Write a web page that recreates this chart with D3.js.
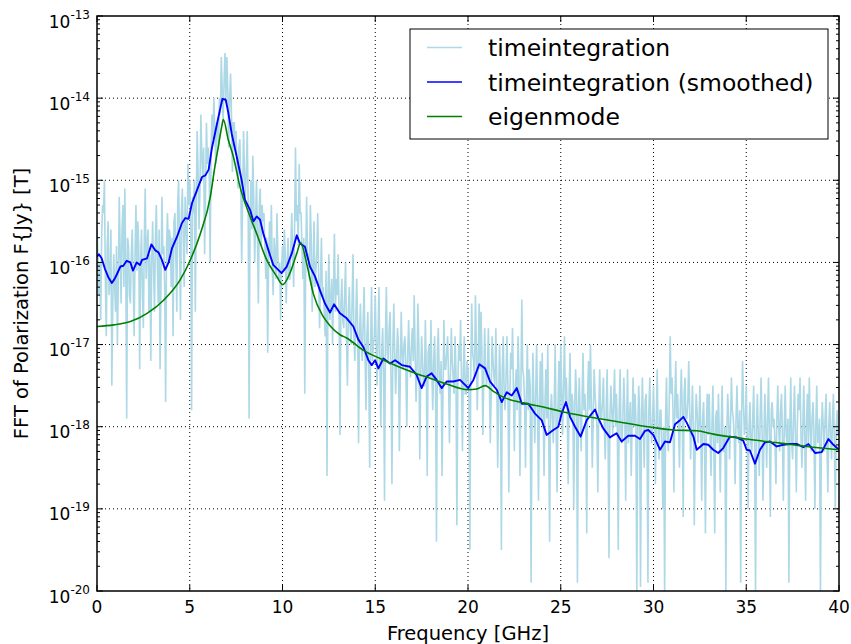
<!DOCTYPE html>
<html>
<head>
<meta charset="utf-8">
<script src="https://cdnjs.cloudflare.com/ajax/libs/d3/7.8.5/d3.min.js"></script>
<style>
  body { margin: 0; background: #fff; }
  text { font-family: "DejaVu Sans", sans-serif; fill: #000; }
</style>
</head>
<body>
<div id="chart"></div>
<script>
// raw FFT (log10 of |F{Jy}|), one bin every 0.05 GHz, one row per GHz
const rawStep = 0.05;
const rawLog = [
  -15.6,-15.9,-16.4,-16.0,-16.7,-15.7,-15.3,-15.4,-15.0,-16.2,-16.9,-15.8,-15.5,-16.4,-16.2,-15.6,-17.5,-16.5,-15.9,-16.3,
  -16.6,-15.8,-17.0,-16.2,-15.2,-15.9,-16.5,-15.6,-15.3,-16.3,-15.1,-16.0,-17.9,-15.7,-15.8,-16.4,-16.5,-15.9,-15.6,-16.2,
  -16.9,-15.9,-15.3,-16.1,-15.5,-15.8,-17.3,-16.0,-15.6,-16.4,-16.8,-15.7,-15.1,-16.2,-15.8,-15.6,-16.6,-15.9,-17.2,-16.0,
  -15.5,-16.1,-16.6,-15.7,-15.3,-16.0,-16.5,-15.6,-17.3,-16.2,-15.2,-15.9,-15.8,-16.3,-17.7,-15.8,-15.4,-16.0,-15.6,-15.7,
  -16.3,-15.7,-16.9,-15.5,-15.4,-15.9,-16.6,-15.3,-15.0,-15.8,-16.7,-15.4,-15.1,-15.7,-16.3,-15.2,-15.5,-15.9,-14.8,-15.3,
  -15.0,-15.5,-17.8,-15.2,-15.4,-15.0,-16.6,-15.3,-14.4,-14.9,-15.6,-15.1,-14.2,-14.7,-15.0,-14.6,-15.9,-15.2,-14.3,-14.8,
  -14.6,-14.9,-16.0,-14.6,-14.2,-14.5,-14.0,-14.4,-14.8,-14.3,-14.3,-14.6,-14.0,-14.2,-13.5,-13.9,-14.3,-13.8,-13.45,-14.0,
  -13.5,-13.9,-14.6,-14.0,-13.7,-14.2,-14.9,-14.3,-14.3,-14.6,-14.4,-14.8,-15.1,-14.6,-14.5,-15.0,-16.0,-15.2,-14.4,-14.9,
  -15.2,-14.9,-14.4,-15.3,-17.9,-15.4,-15.0,-15.6,-14.7,-15.2,-16.0,-15.5,-15.0,-15.7,-16.5,-15.3,-15.1,-15.8,-15.3,-15.5,
  -15.4,-15.8,-16.2,-15.7,-17.1,-16.0,-15.5,-15.9,-15.3,-16.1,-16.4,-15.7,-15.9,-16.2,-15.4,-15.9,-16.2,-16.0,-16.7,-16.1,
  -15.8,-16.1,-15.6,-15.9,-16.5,-16.0,-15.7,-16.2,-16.2,-15.8,-15.4,-15.9,-16.3,-15.6,-14.6,-15.5,-15.3,-15.8,-14.8,-15.4,
  -15.4,-15.8,-16.2,-15.7,-17.6,-16.0,-15.2,-15.9,-15.9,-16.2,-15.3,-15.7,-16.6,-16.1,-15.5,-16.3,-16.1,-15.9,-15.4,-16.2,
  -16.8,-16.2,-15.7,-16.4,-16.3,-16.6,-16.9,-16.1,-18.6,-16.4,-15.9,-16.7,-16.5,-16.2,-17.0,-16.3,-15.65,-16.6,-16.2,-16.4,
  -15.9,-16.6,-18.1,-16.5,-16.2,-16.7,-16.8,-16.4,-16.0,-16.9,-17.5,-16.6,-16.3,-16.8,-17.0,-16.5,-15.9,-16.9,-17.2,-16.7,
  -16.2,-16.8,-18.2,-16.9,-16.5,-17.0,-17.2,-16.7,-16.3,-17.1,-17.8,-16.9,-16.6,-17.3,-18.5,-17.0,-16.3,-17.2,-17.0,-16.9,
  -16.4,-17.0,-17.5,-16.9,-16.3,-17.2,-18.0,-17.1,-16.8,-17.3,-18.9,-16.9,-16.3,-17.1,-17.2,-16.8,-16.6,-17.4,-18.7,-17.0,
  -16.5,-17.1,-17.6,-17.2,-16.8,-17.0,-18.3,-17.4,-16.6,-17.1,-17.3,-17.0,-16.9,-17.3,-18.0,-17.1,-16.7,-17.2,-17.4,-17.0,
  -16.8,-17.2,-16.4,-17.1,-17.7,-17.3,-16.5,-17.0,-18.4,-17.4,-16.9,-17.2,-17.5,-17.5,-16.7,-17.3,-18.6,-17.1,-17.0,-17.4,
  -16.7,-17.3,-17.8,-17.2,-16.9,-17.5,-19.4,-17.1,-16.8,-17.4,-17.6,-17.2,-18.6,-17.6,-16.7,-17.3,-17.3,-17.1,-16.9,-17.4,
  -18.2,-17.4,-16.8,-17.2,-17.4,-17.6,-16.9,-17.3,-19.2,-17.5,-17.0,-17.2,-16.7,-17.4,-18.3,-17.3,-16.9,-17.6,-17.6,-17.2,
  -17.3,-17.6,-19.5,-17.3,-16.5,-17.1,-17.2,-17.4,-16.4,-17.0,-17.8,-17.2,-16.5,-17.3,-16.6,-17.1,-18.1,-17.4,-16.8,-17.3,
  -17.5,-17.3,-16.8,-17.4,-18.2,-17.6,-16.9,-17.2,-17.4,-17.5,-16.8,-17.4,-18.5,-17.7,-17.0,-17.5,-19.5,-17.3,-16.9,-17.6,
  -17.8,-17.4,-16.9,-17.5,-18.8,-17.7,-17.1,-17.3,-16.8,-17.6,-18.3,-17.5,-17.3,-17.8,-16.9,-17.4,-18.6,-17.6,-16.45,-17.3,
  -17.4,-17.7,-18.5,-17.6,-17.0,-17.8,-17.3,-17.5,-19.9,-17.9,-17.1,-17.7,-18.2,-17.6,-17.0,-17.8,-18.9,-17.7,-17.2,-17.9,
  -17.1,-17.8,-18.6,-17.7,-17.3,-17.9,-17.0,-18.1,-19.4,-17.8,-17.6,-17.9,-18.2,-17.7,-17.0,-18.0,-18.8,-17.8,-17.2,-17.9,
  -17.0,-17.6,-18.1,-17.5,-16.9,-17.7,-17.4,-17.8,-18.7,-17.6,-17.1,-17.9,-17.6,-17.7,-19.0,-17.8,-17.3,-17.6,-19.9,-17.8,
  -17.4,-17.9,-18.3,-17.7,-17.1,-17.8,-17.6,-17.9,-19.3,-17.6,-17.2,-17.8,-17.0,-17.7,-18.5,-17.9,-17.3,-17.6,-17.8,-18.0,
  -18.8,-17.8,-17.3,-17.9,-17.9,-17.7,-17.4,-18.0,-18.4,-17.8,-17.3,-18.1,-19.6,-17.9,-17.5,-17.8,-18.1,-17.7,-17.3,-18.0,
  -17.6,-18.0,-19.5,-17.8,-17.3,-18.1,-18.2,-17.9,-17.4,-17.8,-18.9,-18.0,-17.3,-18.2,-17.9,-17.7,-18.6,-17.9,-17.4,-18.0,
  -17.6,-17.9,-20.05,-18.1,-17.5,-17.8,-19.95,-18.0,-17.4,-17.9,-18.5,-17.7,-17.6,-18.1,-19.9,-17.8,-17.4,-18.0,-18.2,-17.9,
  -17.5,-18.0,-18.7,-17.9,-17.3,-18.1,-18.4,-17.8,-17.8,-18.2,-19.0,-18.0,-20.05,-17.9,-17.4,-18.1,-18.3,-17.7,-16.9,-17.6,
  -17.4,-17.8,-18.8,-17.7,-17.2,-17.9,-17.6,-18.0,-18.5,-17.7,-17.3,-17.8,-19.1,-17.6,-17.4,-17.9,-17.9,-17.7,-17.2,-17.8,
  -18.4,-17.9,-17.5,-18.0,-19.2,-18.1,-17.6,-17.8,-18.2,-18.0,-17.5,-18.1,-18.9,-17.9,-17.7,-18.2,-19.3,-18.0,-17.6,-18.1,
  -17.6,-18.1,-18.6,-18.0,-17.5,-18.2,-19.3,-17.9,-17.8,-18.2,-17.6,-18.1,-18.8,-18.0,-17.5,-18.3,-18.3,-18.0,-20.05,-18.1,
  -17.6,-17.9,-18.4,-18.0,-17.4,-17.8,-17.9,-18.1,-18.7,-17.9,-17.5,-18.0,-18.2,-17.8,-19.9,-17.9,-17.2,-17.7,-18.1,-18.0,
  -17.5,-18.1,-19.0,-18.0,-17.7,-18.2,-18.3,-17.9,-17.5,-18.2,-20.05,-18.0,-17.6,-18.1,-18.6,-17.9,-17.4,-18.0,-18.9,-18.2,
  -17.6,-18.0,-18.5,-17.9,-17.4,-18.1,-19.1,-17.8,-17.7,-18.0,-17.9,-18.2,-18.7,-17.9,-17.5,-18.0,-18.3,-17.8,-17.6,-18.1,
  -18.9,-18.0,-17.5,-18.1,-18.2,-17.9,-19.9,-18.0,-17.4,-18.2,-18.4,-17.9,-17.5,-18.1,-18.8,-18.0,-17.6,-17.8,-17.4,-18.1,
  -18.5,-18.0,-17.5,-18.1,-18.9,-17.9,-17.6,-18.2,-17.4,-18.0,-18.3,-17.9,-17.7,-18.1,-19.0,-18.0,-17.5,-18.2,-18.1,-17.9,
  -20.05,-18.1,-17.7,-18.0,-18.3,-17.9,-17.6,-18.2,-18.8,-18.0,-17.7,-18.1,-18.4,-17.9,-17.6,-18.2,-19.0,-18.0,-17.8,-18.1,
  -18.0
];
const rawFreq = rawLog.map((d, i) => i * rawStep);

// smoothed time integration: [GHz, log10]
const smoothed = [
  [0, -15.93], [0.1, -15.9], [0.25, -15.95], [0.43, -16.08], [0.61, -16.18], [0.8, -16.25],
  [0.95, -16.2], [1.06, -16.15], [1.26, -16.05], [1.42, -16.04], [1.6, -15.98], [1.8, -16.0],
  [1.94, -16.1], [2.14, -16.0], [2.32, -16.03], [2.43, -15.97], [2.7, -15.95], [2.93, -15.78],
  [3.13, -15.85], [3.32, -15.88], [3.5, -15.97], [3.68, -16.09], [3.86, -16.0], [4.04, -15.83],
  [4.31, -15.69], [4.58, -15.52], [4.76, -15.46], [4.94, -15.47], [5.12, -15.28], [5.39, -15.12],
  [5.66, -14.96], [5.84, -14.94], [6.02, -14.87], [6.2, -14.6], [6.36, -14.43], [6.63, -14.14],
  [6.76, -14.01], [6.94, -14.02], [7.08, -14.18], [7.26, -14.43], [7.53, -14.71], [7.8, -15.0],
  [7.98, -15.24], [8.25, -15.36], [8.43, -15.5], [8.61, -15.44], [8.79, -15.48], [8.97, -15.65],
  [9.24, -15.85], [9.5, -16.03], [9.77, -16.09], [9.95, -16.13], [10.23, -16.05], [10.5, -15.89],
  [10.77, -15.67], [10.95, -15.77], [11.21, -15.81], [11.48, -16.05], [11.75, -16.17], [12.02, -16.34],
  [12.29, -16.5], [12.56, -16.61], [12.78, -16.51], [13.1, -16.62], [13.46, -16.68], [13.82, -16.78],
  [14.09, -16.94], [14.36, -17.03], [14.63, -17.19], [14.81, -17.25], [14.99, -17.19], [15.17, -17.29],
  [15.44, -17.17], [15.8, -17.23], [16.07, -17.19], [16.43, -17.25], [16.87, -17.27], [17.23, -17.37],
  [17.5, -17.53], [17.77, -17.39], [18.04, -17.35], [18.31, -17.43], [18.58, -17.53], [18.85, -17.45],
  [19.21, -17.45], [19.57, -17.43], [19.84, -17.49], [20.02, -17.53], [20.29, -17.43], [20.61, -17.24],
  [20.92, -17.29], [21.19, -17.45], [21.55, -17.55], [21.82, -17.7], [22.09, -17.58], [22.36, -17.62],
  [22.63, -17.53], [22.9, -17.72], [23.25, -17.72], [23.61, -17.84], [23.97, -17.92], [24.24, -18.1],
  [24.6, -18.04], [24.87, -18.0], [25.05, -17.84], [25.28, -17.7], [25.5, -17.88], [25.77, -18.0],
  [26.07, -18.12], [26.4, -17.92], [26.85, -17.79], [27.03, -17.9], [27.29, -18.02], [27.65, -18.13],
  [28.01, -18.08], [28.28, -18.18], [28.64, -18.11], [29.0, -18.11], [29.27, -18.15], [29.54, -18.05],
  [29.72, -18.04], [29.99, -18.1], [30.35, -18.28], [30.62, -18.18], [30.89, -18.19], [31.16, -17.97],
  [31.43, -17.92], [31.61, -17.88], [31.79, -17.95], [32.15, -18.12], [32.33, -18.28], [32.69, -18.21],
  [32.95, -18.22], [33.22, -18.28], [33.49, -18.32], [33.76, -18.26], [34.12, -18.12], [34.48, -18.13],
  [34.84, -18.17], [35.02, -18.28], [35.2, -18.29], [35.47, -18.45], [35.74, -18.28], [36.01, -18.19],
  [36.28, -18.18], [36.64, -18.24], [37.0, -18.22], [37.36, -18.21], [37.72, -18.21], [38.08, -18.25],
  [38.35, -18.21], [38.71, -18.32], [39.07, -18.31], [39.43, -18.15], [39.7, -18.22], [40, -18.28]
];

// eigenmode: [GHz, log10]
const eigenmode = [
  [0, -16.78], [0.9, -16.76], [1.8, -16.72], [2.7, -16.62], [3.59, -16.46], [4.49, -16.21],
  [5.03, -15.97], [5.57, -15.65], [6.11, -15.2], [6.33, -14.87], [6.54, -14.59], [6.72, -14.35],
  [6.81, -14.26], [7.08, -14.51], [7.35, -14.71], [7.71, -15.08], [8.25, -15.44], [8.61, -15.65],
  [9.15, -15.97], [9.69, -16.17], [10.01, -16.27], [10.4, -16.13], [10.77, -15.89], [10.98, -15.76],
  [11.3, -16.01], [11.66, -16.38], [12.2, -16.66], [12.56, -16.77], [13.1, -16.88], [13.46, -16.92],
  [14.36, -17.07], [15.26, -17.17], [16.16, -17.26], [17.05, -17.34], [17.95, -17.41], [18.85, -17.48],
  [20.0, -17.55], [20.47, -17.54], [20.92, -17.5], [21.37, -17.57], [21.9, -17.64], [22.98, -17.71],
  [24.06, -17.76], [25.14, -17.82], [26.04, -17.86], [27.83, -17.93], [29.99, -18.01], [31.07, -18.04],
  [32.33, -18.05], [33.22, -18.09], [35.02, -18.15], [36.82, -18.2], [38.62, -18.25], [40, -18.28]
];

const xTicks = [0, 5, 10, 15, 20, 25, 30, 35, 40];
const yDecades = [-20, -19, -18, -17, -16, -15, -14, -13];
const legendLabels = ["timeintegration", "timeintegration (smoothed)", "eigenmode"];
const seriesColors = ["lightblue", "blue", "green"];

const W = 851, H = 644;
const margin = { left: 97, right: 12, top: 16, bottom: 53 };

const svg = d3.select("#chart").append("svg")
  .attr("width", W).attr("height", H);

const x = d3.scaleLinear().domain([0, 40]).range([margin.left, W - margin.right]);
const y = d3.scaleLog().domain([1e-20, 1e-13]).range([H - margin.bottom, margin.top]);

const x0 = x.range()[0], x1 = x.range()[1], yb = y.range()[0], yt = y.range()[1];

svg.append("clipPath").attr("id", "plotclip")
  .append("rect").attr("x", x0).attr("y", yt).attr("width", x1 - x0).attr("height", yb - yt);

// grid
const grid = svg.append("g");
grid.selectAll(".gx").data(xTicks.slice(1, -1)).enter().append("line")
  .attr("x1", d => x(d)).attr("x2", d => x(d)).attr("y1", yt).attr("y2", yb)
  .attr("stroke", "#000").attr("stroke-width", 1).attr("stroke-dasharray", "1,3");
grid.selectAll(".gy").data(yDecades.slice(1, -1)).enter().append("line")
  .attr("y1", d => y(Math.pow(10, d))).attr("y2", d => y(Math.pow(10, d)))
  .attr("x1", x0).attr("x2", x1)
  .attr("stroke", "#000").attr("stroke-width", 1).attr("stroke-dasharray", "1,3");

// series
const plot = svg.append("g").attr("clip-path", "url(#plotclip)");
const line = d3.line().x(d => x(d[0])).y(d => y(Math.pow(10, d[1])));

plot.append("path")
  .datum(rawLog.map((v, i) => [rawFreq[i], v]))
  .attr("d", line)
  .attr("fill", "none").attr("stroke", seriesColors[0]).attr("stroke-width", 1.6);

plot.append("path")
  .datum(smoothed)
  .attr("d", line)
  .attr("fill", "none").attr("stroke", seriesColors[1]).attr("stroke-width", 1.9)
  .attr("stroke-linejoin", "round");

plot.append("path")
  .datum(eigenmode)
  .attr("d", line.curve(d3.curveMonotoneX))
  .attr("fill", "none").attr("stroke", seriesColors[2]).attr("stroke-width", 1.6);

// ticks (inside, all four sides)
const ticks = svg.append("g").attr("stroke", "#000").attr("stroke-width", 1);
xTicks.forEach(t => {
  ticks.append("line").attr("x1", x(t)).attr("x2", x(t)).attr("y1", yb).attr("y2", yb - 6);
  ticks.append("line").attr("x1", x(t)).attr("x2", x(t)).attr("y1", yt).attr("y2", yt + 6);
});
yDecades.forEach(k => {
  const yy = y(Math.pow(10, k));
  ticks.append("line").attr("x1", x0).attr("x2", x0 + 6).attr("y1", yy).attr("y2", yy);
  ticks.append("line").attr("x1", x1).attr("x2", x1 - 6).attr("y1", yy).attr("y2", yy);
  if (k < -13) {
    d3.range(2, 10).forEach(m => {
      const ym = y(m * Math.pow(10, k));
      ticks.append("line").attr("x1", x0).attr("x2", x0 + 3).attr("y1", ym).attr("y2", ym);
      ticks.append("line").attr("x1", x1).attr("x2", x1 - 3).attr("y1", ym).attr("y2", ym);
    });
  }
});

// frame
svg.append("rect").attr("x", x0).attr("y", yt).attr("width", x1 - x0).attr("height", yb - yt)
  .attr("fill", "none").attr("stroke", "#000").attr("stroke-width", 1.5);

// tick labels
svg.selectAll(".xl").data(xTicks).enter().append("text")
  .attr("x", d => x(d)).attr("y", yb + 22)
  .attr("text-anchor", "middle").attr("font-size", 17)
  .text(d => d);

yDecades.forEach(k => {
  const t = svg.append("text")
    .attr("x", 90).attr("y", y(Math.pow(10, k)) + 11.5)
    .attr("text-anchor", "end").attr("font-size", 17);
  t.append("tspan").text("10");
  t.append("tspan").attr("dy", -9).attr("font-size", 12).text(k);
});

// axis labels
svg.append("text")
  .attr("x", (x0 + x1) / 2).attr("y", H - 4)
  .attr("text-anchor", "middle").attr("font-size", 19.5)
  .text("Frequency [GHz]");
svg.append("text")
  .attr("transform", `translate(28, ${(yt + yb) / 2}) rotate(-90)`)
  .attr("text-anchor", "middle").attr("font-size", 19.5)
  .text("FFT of Polarization F{Jy} [T]");

// legend
const legend = svg.append("g");
legend.append("rect").attr("x", 410).attr("y", 29).attr("width", 418).attr("height", 110)
  .attr("fill", "#fff").attr("stroke", "#000").attr("stroke-width", 1);
legendLabels.forEach((lab, i) => {
  const ly = 47.5 + i * 34.5;
  legend.append("line").attr("x1", 427).attr("x2", 462).attr("y1", ly).attr("y2", ly)
    .attr("stroke", seriesColors[i]).attr("stroke-width", 1.5);
  legend.append("text").attr("x", 488).attr("y", ly + 8.5).attr("font-size", 23.5).text(lab);
});
</script>
</body>
</html>
